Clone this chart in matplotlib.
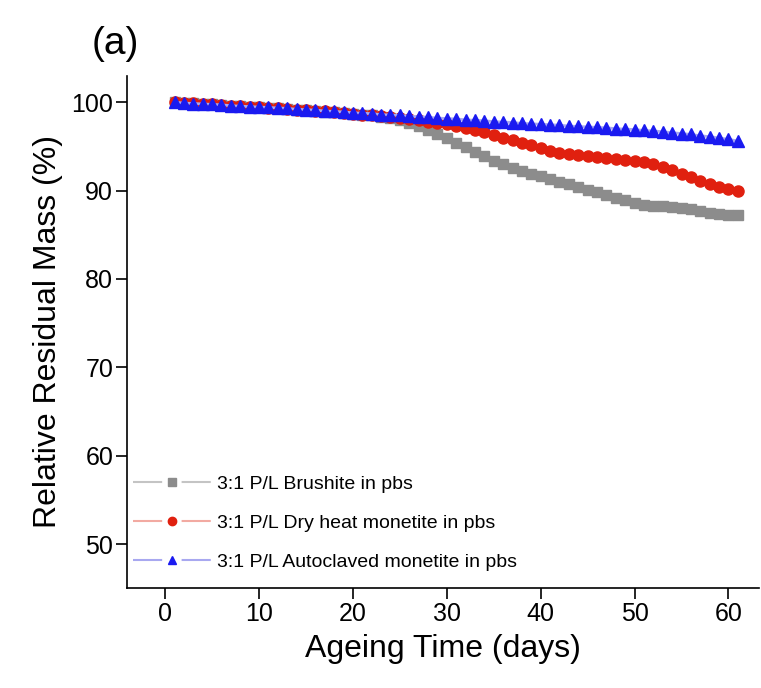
import matplotlib
matplotlib.use('Agg')
import matplotlib.pyplot as plt
from matplotlib.lines import Line2D

plt.rcParams['font.family'] = ['Liberation Sans', 'DejaVu Sans']
plt.rcParams['lines.scale_dashes'] = False

days = list(range(1, 62))

brushite = [100.0, 99.95, 99.9, 99.8, 99.75, 99.7, 99.6, 99.55, 99.5, 99.4,
            99.35, 99.3, 99.2, 99.15, 99.1, 99.0, 98.9, 98.85, 98.8, 98.7,
            98.6, 98.5, 98.35, 98.2, 98.0, 97.7, 97.3, 96.9, 96.4, 95.9,
            95.4, 94.9, 94.4, 93.9, 93.4, 93.0, 92.6, 92.2, 91.9, 91.6,
            91.3, 91.0, 90.7, 90.4, 90.1, 89.8, 89.5, 89.2, 88.9, 88.6,
            88.4, 88.3, 88.2, 88.1, 88.0, 87.9, 87.7, 87.5, 87.3, 87.2, 87.2]

dry_heat = [100.0, 99.95, 99.9, 99.8, 99.75, 99.7, 99.6, 99.55, 99.5, 99.4,
            99.35, 99.3, 99.2, 99.15, 99.1, 99.0, 98.95, 98.85, 98.8, 98.7,
            98.6, 98.5, 98.4, 98.3, 98.2, 98.1, 97.95, 97.8, 97.65, 97.5,
            97.3, 97.1, 96.9, 96.6, 96.3, 96.0, 95.7, 95.4, 95.1, 94.8,
            94.5, 94.3, 94.1, 94.0, 93.9, 93.8, 93.7, 93.6, 93.5, 93.35,
            93.2, 93.0, 92.7, 92.3, 91.9, 91.5, 91.1, 90.7, 90.4, 90.2, 90.0]

autoclaved = [100.0, 99.9, 99.85, 99.8, 99.75, 99.7, 99.6, 99.55, 99.5, 99.45,
              99.4, 99.35, 99.3, 99.2, 99.15, 99.1, 99.0, 98.95, 98.9, 98.8,
              98.75, 98.7, 98.6, 98.55, 98.5, 98.4, 98.35, 98.3, 98.2, 98.15,
              98.1, 98.0, 97.95, 97.9, 97.8, 97.75, 97.7, 97.6, 97.55, 97.5,
              97.45, 97.4, 97.3, 97.25, 97.2, 97.15, 97.1, 97.0, 96.95, 96.9,
              96.8, 96.75, 96.65, 96.55, 96.45, 96.35, 96.2, 96.1, 95.95, 95.8, 95.6]

labels = ['3:1 P/L Brushite in pbs',
          '3:1 P/L Dry heat monetite in pbs',
          '3:1 P/L Autoclaved monetite in pbs']

series = [brushite, dry_heat, autoclaved]
markers = ['s', 'o', '^']
sizes = [7.5, 8, 8.5]
mcolors = ['#8c8c8c', '#e0200f', '#1a1af0']
lcolors = ['#c4c4c4', '#f2aaa2', '#a8a8f0']

fig = plt.figure(figsize=(7.61, 6.88), dpi=100)
ax = fig.add_axes([0.167, 0.145, 0.831, 0.745])

handles = []
for vals, m, s, mc, lc in zip(series, markers, sizes, mcolors, lcolors):
    ax.plot(days, vals, color=lc, lw=2, marker=m, ms=s, mfc=mc, mec=mc)
    # legend handle: faint line with a gap around the marker
    dash = Line2D([], [], color=lc, lw=1.5, dashes=(21, 14))
    mk = Line2D([], [], ls='none', marker=m, ms=s * 0.75, mfc=mc, mec=mc)
    handles.append((dash, mk))

ax.set_xlim(-4.05, 63.3)
ax.set_ylim(45, 103)
ax.set_xticks([0, 10, 20, 30, 40, 50, 60])
ax.set_yticks([50, 60, 70, 80, 90, 100])
ax.tick_params(direction='out', length=8, width=1.2, labelsize=18, pad=2)
for s in ['top', 'right']:
    ax.spines[s].set_visible(False)
for s in ['left', 'bottom']:
    ax.spines[s].set_linewidth(1.2)

ax.set_xlabel('Ageing Time (days)', fontsize=23, labelpad=6)
ax.set_ylabel('Relative Residual Mass (%)', fontsize=23, labelpad=6)

ax.legend(handles, labels, loc='lower left', bbox_to_anchor=(0.0, 0.022),
          frameon=False, fontsize=14, handlelength=4.0, borderaxespad=0.0,
          borderpad=0.3, labelspacing=1.1, handletextpad=0.3)

fig.text(0.12, 0.922, '(a)', fontsize=28)

fig.savefig('out.png', dpi=100)
